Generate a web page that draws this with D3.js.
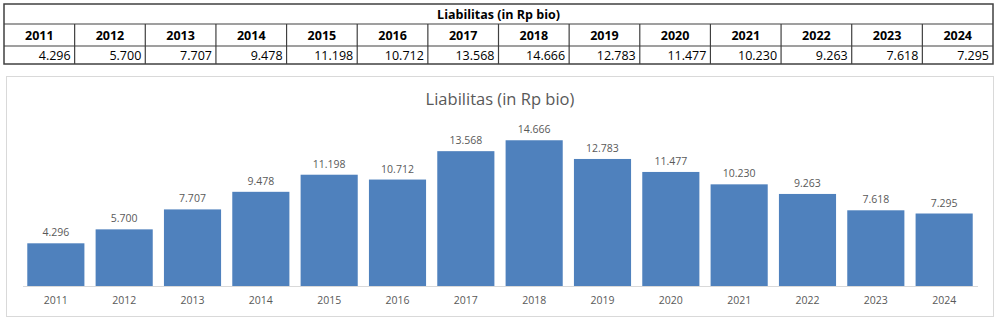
<!DOCTYPE html>
<html lang="en">
<head>
<meta charset="UTF-8">
<title>Liabilitas</title>
<style>
    body { margin: 0; background: #fff; }
    svg { display: block; font-family: "Open Sans", "DejaVu Sans", sans-serif; }
</style>
</head>
<body>
<svg id="chart"></svg>
<script src="https://d3js.org/d3.v7.min.js"></script>
<script>
    // Data
    var years = ["2011", "2012", "2013", "2014", "2015", "2016", "2017", "2018", "2019", "2020", "2021", "2022", "2023", "2024"];
    var values = [4.296, 5.700, 7.707, 9.478, 11.198, 10.712, 13.568, 14.666, 12.783, 11.477, 10.230, 9.263, 7.618, 7.295];
    var valueLabels = ["4.296", "5.700", "7.707", "9.478", "11.198", "10.712", "13.568", "14.666", "12.783", "11.477", "10.230", "9.263", "7.618", "7.295"];
    var title = "Liabilitas (in Rp bio)";

    var width = 1000, height = 323;
    var svg = d3.select("#chart").attr("width", width).attr("height", height);

    // ---- Table on top ----
    var table = svg.append("g");
    var tx = d3.scaleBand().domain(years).range([4, 993]);
    var tTop = 4, tHead = 24, tRow = 46, tBottom = 64;

    table.append("rect")
        .attr("x", 4).attr("y", tTop)
        .attr("width", 989).attr("height", tBottom - tTop)
        .attr("fill", "none").attr("stroke", "#404040").attr("stroke-width", 1.5);

    table.append("text")
        .attr("x", (4 + 993) / 2).attr("y", 19)
        .attr("text-anchor", "middle")
        .style("font-size", "12.5px").style("font-weight", "bold").attr("fill", "#000")
        .text(title);

    table.selectAll("line.h").data([tHead, tRow]).enter().append("line")
        .attr("x1", 4).attr("x2", 993)
        .attr("y1", d => d).attr("y2", d => d)
        .attr("stroke", "#404040").attr("stroke-width", 1.2);

    table.selectAll("line.v").data(years.slice(1)).enter().append("line")
        .attr("x1", d => tx(d)).attr("x2", d => tx(d))
        .attr("y1", tHead).attr("y2", tBottom)
        .attr("stroke", "#404040").attr("stroke-width", 1.2);

    table.selectAll("text.year").data(years).enter().append("text")
        .attr("x", d => tx(d) + tx.bandwidth() / 2).attr("y", 40)
        .attr("text-anchor", "middle")
        .style("font-size", "12.5px").style("font-weight", "bold").attr("fill", "#000")
        .text(d => d);

    table.selectAll("text.val").data(valueLabels).enter().append("text")
        .attr("x", (d, i) => tx(years[i]) + tx.bandwidth() - 4).attr("y", 60)
        .attr("text-anchor", "end")
        .style("font-size", "12.5px").attr("fill", "#000")
        .text(d => d);

    // ---- Chart box ----
    svg.append("rect")
        .attr("x", 6.5).attr("y", 76.5)
        .attr("width", 987).attr("height", 240)
        .attr("fill", "#fff").attr("stroke", "#d9d9d9");

    svg.append("text")
        .attr("x", 500).attr("y", 105)
        .attr("text-anchor", "middle")
        .style("font-size", "16.5px").attr("fill", "#595959")
        .text(title);

    var x = d3.scaleBand().domain(years).range([22.5, 977.5]).paddingInner(0.164).paddingOuter(0.07);
    var y = d3.scaleLinear().domain([0, 16]).range([286, 127]);

    svg.append("g").selectAll("rect").data(values).enter().append("rect")
        .attr("x", (d, i) => x(years[i]))
        .attr("y", d => y(d))
        .attr("width", x.bandwidth())
        .attr("height", d => y(0) - y(d))
        .attr("fill", "#4f81bd");

    svg.append("g").selectAll("text").data(values).enter().append("text")
        .attr("x", (d, i) => x(years[i]) + x.bandwidth() / 2)
        .attr("y", d => y(d) - 7)
        .attr("text-anchor", "middle")
        .style("font-size", "10.5px").attr("fill", "#595959")
        .text((d, i) => valueLabels[i]);

    var xAxis = svg.append("g")
        .attr("transform", "translate(0," + y(0) + ")")
        .call(d3.axisBottom(x).tickSize(0).tickPadding(11));
    xAxis.select(".domain").attr("stroke", "#d9d9d9");
    xAxis.selectAll("text")
        .style("font-size", "10.5px").style("font-family", "'Open Sans', 'DejaVu Sans', sans-serif")
        .attr("fill", "#595959");
</script>
</body>
</html>
